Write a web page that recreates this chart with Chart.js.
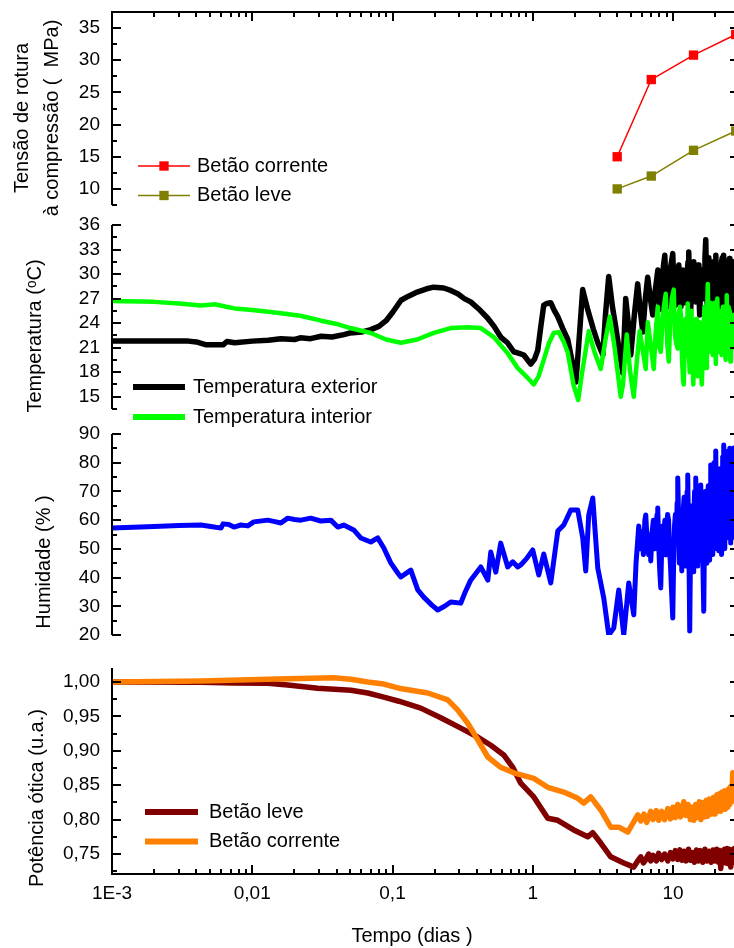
<!DOCTYPE html>
<html>
<head>
<meta charset="utf-8">
<script src="https://cdn.jsdelivr.net/npm/chart.js@4.4.1/dist/chart.umd.min.js"></script>
<style>
  html, body { margin: 0; padding: 0; background: #fff; overflow: hidden; }
  #wrap { position: relative; width: 734px; height: 948px; overflow: hidden; }
  canvas { position: absolute; left: 0; top: 0; }
</style>
</head>
<body>
<div id="wrap">
  <canvas id="strength" width="741" height="948"></canvas>
  <canvas id="temperature" width="741" height="948"></canvas>
  <canvas id="humidity" width="741" height="948"></canvas>
  <canvas id="optical" width="741" height="948"></canvas>
</div>
<script>
// shared time axis (dias, log)
const xMin = 0.001;
const xMax = 29.55;
const xTickValues = [0.001, 0.01, 0.1, 1, 10];
const xTickLabels = ['1E-3', '0,01', '0,1', '1', '10'];

// tensão de rotura à compressão
const strengthDays = [4, 7, 14, 28];
const strengthCorrente = [15, 27, 30.8, 34];
const strengthLeve = [10, 12, 16, 19];

// temperatura exterior [dias, ºC]
const extTemp = [
  [0.001, 21.8], [0.002, 21.8], [0.0035, 21.8], [0.004, 21.7], [0.0047, 21.35], [0.0062, 21.35], [0.0066, 21.75], [0.0075, 21.6], [0.01, 21.8], [0.013, 21.9],
  [0.016, 22.1], [0.02, 22.0], [0.022, 22.2], [0.026, 22.1], [0.031, 22.4], [0.037, 22.3], [0.045, 22.6], [0.05, 22.8], [0.06, 22.9], [0.07, 23.2],
  [0.08, 23.6], [0.09, 24.3], [0.1, 25.3], [0.115, 26.8], [0.13, 27.3], [0.15, 27.8], [0.175, 28.2], [0.197, 28.4], [0.232, 28.3], [0.26, 28.0],
  [0.292, 27.6], [0.325, 27.0], [0.361, 26.6], [0.42, 25.6], [0.478, 24.6], [0.53, 23.6], [0.591, 22.3], [0.66, 21.6], [0.732, 20.5], [0.8, 20.3],
  [0.863, 20.1], [0.968, 19.0], [1.03, 19.6], [1.086, 20.7], [1.14, 23.5], [1.198, 26.2], [1.26, 26.4], [1.344, 26.5], [1.42, 25.6], [1.508, 24.8],
  [1.64, 23.3], [1.777, 22.0], [1.9, 19.5], [2.03, 16.8], [2.12, 21.0], [2.27, 28.1], [2.47, 25.6], [2.7, 23.3], [2.91, 21.6], [3.16, 20.1],
  [3.3, 25.0], [3.48, 29.7], [3.7, 26.0], [3.9, 23.6], [4.15, 20.5], [4.38, 17.9], [4.6, 27.0], [4.8, 24.0], [5.0, 20.1], [5.3, 25.0],
  [5.6, 28.8], [5.85, 25.5], [6.09, 22.9], [6.35, 27.0], [6.6, 29.6], [6.9, 27.0], [7.17, 25.0], [7.4, 27.5], [7.6, 29.0], [7.8, 30.5],
  [8.0, 26.5], [8.18, 25.7], [8.35, 29.0], [8.55, 31.0], [8.74, 32.3], [8.95, 28.0], [9.15, 26.0], [9.33, 27.0], [9.55, 30.5], [9.75, 31.5],
  [9.96, 32.5], [10.15, 28.5], [10.3, 26.5], [10.46, 26.2], [10.65, 29.5], [10.85, 30.5], [11.0, 31.1], [11.2, 27.5], [11.4, 26.0], [11.6, 28.5],
  [11.8, 30.5], [12.0, 29.0], [12.2, 26.5], [12.4, 26.6], [12.6, 30.0], [12.8, 31.5], [12.95, 32.7], [13.15, 28.0], [13.35, 25.5], [13.55, 27.5],
  [13.75, 30.5], [13.9, 31.0], [14.06, 31.5], [14.3, 27.0], [14.5, 26.6], [14.7, 29.0], [14.9, 30.5], [15.1, 31.1], [15.3, 27.5], [15.5, 25.0],
  [15.7, 28.0], [15.9, 30.0], [16.1, 30.5], [16.3, 27.5], [16.5, 27.0], [16.7, 30.0], [16.9, 32.0], [17.12, 34.2], [17.35, 29.0], [17.55, 26.0],
  [17.8, 29.5], [18.0, 32.0], [18.2, 30.0], [18.4, 27.4], [18.6, 28.5], [18.8, 31.5], [19.0, 31.0], [19.2, 27.0], [19.45, 25.5], [19.7, 29.0],
  [19.95, 31.5], [20.2, 32.3], [20.45, 28.0], [20.7, 26.6], [20.95, 30.0], [21.2, 31.0], [21.45, 27.5], [21.7, 24.5], [21.95, 28.5], [22.2, 31.5],
  [22.45, 32.0], [22.7, 29.0], [22.95, 32.3], [23.2, 27.0], [23.45, 25.7], [23.7, 29.0], [23.95, 30.5], [24.2, 28.0], [24.45, 25.0], [24.7, 28.5],
  [24.95, 31.0], [25.2, 31.9], [25.45, 28.0], [25.7, 26.0], [25.95, 29.0], [26.2, 30.5], [26.45, 27.0], [26.7, 25.5], [26.95, 29.5], [27.2, 31.5],
  [27.45, 29.0], [27.6, 28.2]
];

// temperatura interior [dias, ºC]
const intTemp = [
  [0.001, 26.7], [0.002, 26.6], [0.003, 26.4], [0.0043, 26.15], [0.0055, 26.3], [0.0065, 26.0], [0.0075, 25.8], [0.01, 25.6], [0.013, 25.4], [0.016, 25.2],
  [0.022, 24.9], [0.031, 24.3], [0.04, 23.9], [0.05, 23.4], [0.07, 22.8], [0.09, 22.0], [0.1146, 21.6], [0.15, 22.0], [0.197, 22.8], [0.26, 23.4],
  [0.344, 23.5], [0.426, 23.4], [0.527, 22.3], [0.663, 20.3], [0.782, 18.5], [0.921, 17.3], [1.017, 16.5], [1.1, 17.5], [1.198, 19.5], [1.3, 21.5],
  [1.411, 22.8], [1.532, 22.9], [1.663, 21.7], [1.777, 20.4], [1.95, 16.5], [2.11, 14.6], [2.25, 18.0], [2.507, 23.0], [2.75, 20.5], [3.054, 18.4],
  [3.3, 22.0], [3.54, 24.8], [3.8, 21.5], [4.24, 15.0], [4.4, 16.5], [4.68, 22.6], [4.95, 18.0], [5.25, 15.0], [5.5, 19.0], [5.79, 23.0],
  [6.39, 18.4], [6.61, 24.1], [7.29, 18.4], [7.5, 22.5], [7.785, 26.0], [8.0, 21.0], [8.18, 20.5], [8.4, 24.0], [8.6, 26.0], [8.88, 27.6],
  [9.1, 21.5], [9.33, 19.3], [9.55, 24.0], [9.8, 27.0], [10.12, 28.1], [10.35, 22.5], [10.55, 21.5], [10.81, 20.9], [11.0, 25.0], [11.2, 26.0],
  [11.4, 25.0], [11.6, 19.5], [11.8, 17.0], [11.93, 16.5], [12.1, 21.0], [12.3, 24.5], [12.5, 20.0], [12.74, 26.4], [12.95, 21.0], [13.15, 18.0],
  [13.35, 23.0], [13.55, 25.5], [13.75, 20.5], [13.95, 16.5], [14.15, 19.5], [14.35, 23.0], [14.6, 24.5], [14.8, 19.5], [15.02, 17.5], [15.25, 22.0],
  [15.45, 24.1], [15.65, 21.0], [15.85, 18.0], [16.05, 16.5], [16.3, 20.0], [16.55, 24.0], [16.8, 26.0], [17.0, 21.0], [17.2, 18.5], [17.45, 24.0],
  [17.69, 28.8], [17.95, 23.0], [18.2, 20.5], [18.45, 26.5], [18.7, 25.5], [18.95, 21.0], [19.2, 20.1], [19.45, 24.5], [19.7, 26.5], [19.95, 22.0],
  [20.2, 19.0], [20.45, 24.0], [20.7, 27.0], [20.95, 23.0], [21.2, 20.5], [21.45, 25.5], [21.7, 25.0], [21.95, 21.0], [22.2, 20.1], [22.45, 23.5],
  [22.7, 26.0], [22.95, 24.0], [23.2, 26.0], [23.45, 21.0], [23.7, 19.5], [23.95, 24.5], [24.16, 27.4], [24.4, 22.5], [24.65, 21.0], [24.9, 26.0],
  [25.15, 25.5], [25.4, 21.5], [25.65, 19.3], [25.9, 23.0], [26.15, 24.5], [26.4, 22.5], [26.65, 21.0], [26.9, 25.0], [27.15, 24.5], [27.4, 21.5],
  [27.56, 22.6]
];

// humidade [dias, %]
const humidity = [
  [0.001, 57.3], [0.002, 57.8], [0.003, 58.1], [0.0043, 58.3], [0.0055, 57.5], [0.006, 57.3], [0.0062, 58.7], [0.0068, 58.5], [0.0074, 57.6], [0.0083, 58.3],
  [0.0093, 58.0], [0.01025, 59.4], [0.0129, 60.0], [0.0145, 59.5], [0.016, 59.0], [0.0179, 60.7], [0.02, 60.2], [0.0222, 60.0], [0.0261, 60.7], [0.0308, 59.7],
  [0.0363, 60.0], [0.0407, 57.6], [0.0449, 58.3], [0.0529, 56.6], [0.0594, 53.8], [0.07, 52.4], [0.0785, 53.8], [0.0867, 50.3], [0.0972, 45.1], [0.109, 41.6],
  [0.1146, 40.2], [0.135, 42.6], [0.1514, 35.7], [0.167, 33.2], [0.19, 30.5], [0.21, 28.7], [0.235, 30.0], [0.26, 31.5], [0.307, 31.1], [0.33, 35.0],
  [0.361, 39.1], [0.426, 43.7], [0.478, 39.1], [0.502, 48.9], [0.545, 41.9], [0.591, 52.0], [0.663, 43.7], [0.72, 45.5], [0.782, 43.7], [0.821, 44.4],
  [0.9, 46.5], [1.0, 49.6], [1.104, 40.9], [1.198, 48.2], [1.344, 38.1], [1.508, 56.2], [1.663, 58.3], [1.866, 63.5], [2.094, 63.5], [2.272, 53.8],
  [2.387, 42.3], [2.507, 61.8], [2.678, 67.7], [2.908, 43.3], [3.208, 32.9], [3.483, 20.0], [3.78, 22.4], [4.105, 35.7], [4.456, 20.0], [4.836, 38.1],
  [5.251, 27.0], [5.45, 45.0], [5.7, 58.0], [5.85, 50.0], [6.0, 56.0], [6.15, 48.0], [6.3, 60.0], [6.393, 61.8], [6.55, 52.0], [6.7, 48.0],
  [6.85, 55.0], [6.94, 45.8], [7.1, 56.0], [7.25, 60.0], [7.4, 50.0], [7.55, 58.0], [7.7, 62.0], [7.785, 64.2], [7.9, 52.0], [8.05, 42.0],
  [8.177, 36.4], [8.3, 50.0], [8.45, 58.0], [8.6, 55.0], [8.75, 60.0], [8.88, 47.9], [9.0, 55.0], [9.15, 62.0], [9.3, 60.0], [9.45, 50.0],
  [9.6, 44.0], [9.75, 36.0], [9.96, 25.9], [10.1, 45.0], [10.25, 58.0], [10.4, 62.0], [10.55, 52.0], [10.7, 66.0], [10.81, 74.7], [10.95, 62.0],
  [11.1, 45.0], [11.25, 58.0], [11.4, 62.0], [11.55, 42.3], [11.7, 55.0], [11.85, 64.0], [12.0, 68.0], [12.15, 56.0], [12.3, 44.0], [12.45, 60.0],
  [12.6, 70.0], [12.74, 75.7], [12.9, 55.0], [13.05, 40.0], [13.16, 21.4], [13.3, 45.0], [13.45, 60.0], [13.6, 65.0], [13.75, 54.0], [13.9, 42.0],
  [14.05, 60.0], [14.25, 70.0], [14.4, 62.0], [14.53, 74.7], [14.7, 60.0], [14.85, 44.0], [15.0, 52.0], [15.2, 64.0], [15.4, 70.0], [15.6, 58.0],
  [15.77, 72.2], [15.95, 55.0], [16.1, 46.0], [16.25, 52.0], [16.4, 40.0], [16.57, 28.3], [16.75, 52.0], [16.9, 66.0], [17.05, 70.0], [17.25, 58.0],
  [17.45, 45.0], [17.65, 68.0], [17.85, 72.0], [18.05, 60.0], [18.25, 46.0], [18.45, 70.0], [18.58, 79.2], [18.8, 62.0], [19.0, 48.0], [19.2, 68.0],
  [19.4, 76.0], [19.6, 80.0], [19.8, 62.0], [20.0, 70.0], [20.17, 84.1], [20.35, 66.0], [20.55, 50.0], [20.75, 72.0], [20.95, 76.0], [21.2, 49.3],
  [21.4, 66.0], [21.6, 74.0], [21.8, 78.0], [22.0, 52.0], [22.2, 48.0], [22.4, 72.0], [22.6, 82.0], [22.8, 64.0], [23.0, 86.2], [23.2, 68.0],
  [23.4, 50.0], [23.6, 76.0], [23.8, 84.0], [24.0, 70.0], [24.2, 55.0], [24.4, 57.0], [24.6, 74.0], [24.8, 80.0], [24.97, 53.8], [25.2, 72.0],
  [25.4, 85.0], [25.6, 68.0], [25.8, 52.0], [26.0, 76.0], [26.2, 82.0], [26.4, 64.0], [26.6, 78.0], [26.8, 54.0], [27.0, 80.0], [27.12, 85.1],
  [27.3, 70.0], [27.5, 56.0], [27.6, 62.0]
];

// potência ótica [dias, u.a.]
const opticLeve = [
  [0.001, 1.000], [0.0043, 0.9995], [0.00738, 0.9985], [0.0129, 0.998], [0.0179, 0.9956], [0.0293, 0.991], [0.0504, 0.988], [0.0666, 0.984], [0.0867, 0.978], [0.111, 0.972],
  [0.159, 0.962], [0.2208, 0.948], [0.307, 0.933], [0.405, 0.920], [0.502, 0.908], [0.621, 0.894], [0.72, 0.876], [0.821, 0.853], [1.017, 0.833], [1.279, 0.802],
  [1.508, 0.799], [1.96, 0.785], [2.466, 0.775], [2.678, 0.781], [3.054, 0.766], [3.598, 0.746], [4.456, 0.737], [5.251, 0.731], [5.6, 0.740], [5.89, 0.746],
  [6.15, 0.737], [6.4, 0.742], [6.7, 0.750], [6.94, 0.740], [7.2, 0.748], [7.6, 0.740], [7.9, 0.751], [8.3, 0.742], [8.7, 0.750], [9.18, 0.740],
  [9.6, 0.752], [10.0, 0.743], [10.4, 0.755], [10.81, 0.742], [11.2, 0.756], [11.6, 0.741], [12.0, 0.754], [12.4, 0.740], [12.9, 0.757], [13.38, 0.741],
  [13.8, 0.752], [14.2, 0.738], [14.7, 0.756], [15.2, 0.740], [15.7, 0.755], [16.3, 0.738], [16.9, 0.757], [17.5, 0.740], [18.1, 0.754], [18.7, 0.738],
  [19.3, 0.756], [19.9, 0.740], [20.5, 0.757], [21.1, 0.738], [21.6, 0.755], [21.9, 0.729], [22.3, 0.752], [22.8, 0.738], [23.3, 0.757], [23.8, 0.737],
  [24.3, 0.758], [24.8, 0.736], [25.3, 0.757], [25.81, 0.731], [26.3, 0.756], [26.8, 0.740], [27.3, 0.758], [27.8, 0.738], [28.3, 0.752]
];
const opticCorrente = [
  [0.001, 1.000], [0.0043, 1.0015], [0.0129, 1.004], [0.0381, 1.006], [0.0504, 1.004], [0.0666, 1.000], [0.0867, 0.997], [0.111, 0.991], [0.1784, 0.984], [0.2477, 0.974],
  [0.292, 0.959], [0.344, 0.940], [0.405, 0.916], [0.478, 0.891], [0.591, 0.876], [0.732, 0.868], [1.017, 0.860], [1.279, 0.847], [1.663, 0.840], [2.094, 0.831],
  [2.31, 0.824], [2.59, 0.833], [3.054, 0.814], [3.598, 0.789], [4.105, 0.789], [4.757, 0.782], [5.607, 0.807], [5.9, 0.798], [6.2, 0.808], [6.5, 0.796],
  [6.94, 0.812], [7.2, 0.800], [7.6, 0.813], [7.9, 0.799], [8.3, 0.812], [8.7, 0.800], [9.18, 0.816], [9.6, 0.801], [10.0, 0.818], [10.4, 0.803],
  [10.81, 0.822], [11.3, 0.804], [11.93, 0.826], [12.3, 0.806], [12.8, 0.822], [13.3, 0.800], [13.7, 0.818], [14.06, 0.799], [14.5, 0.822], [14.9, 0.803],
  [15.4, 0.826], [15.8, 0.800], [16.3, 0.825], [16.8, 0.804], [17.3, 0.828], [17.69, 0.805], [18.2, 0.830], [18.8, 0.808], [19.4, 0.832], [20.0, 0.808],
  [20.5, 0.836], [21.0, 0.812], [21.5, 0.838], [21.9, 0.812], [22.4, 0.840], [22.8, 0.816], [23.3, 0.842], [23.6, 0.815], [24.1, 0.838], [24.57, 0.818],
  [25.0, 0.845], [25.4, 0.822], [25.8, 0.848], [26.2, 0.826], [26.67, 0.868], [27.0, 0.835], [27.4, 0.855], [27.8, 0.832], [28.2, 0.850]
];

const H = 948;
const AREA_LEFT = 112;
const AREA_RIGHT = 739;
const FONT = '"Liberation Sans", Arial, sans-serif';

Chart.defaults.font.family = FONT;
Chart.defaults.font.size = 19;
Chart.defaults.color = '#000';

const zip = (xs, ys) => xs.map((x, i) => ({x: x, y: ys[i]}));
const pairs = arr => arr.map(p => ({x: p[0], y: p[1]}));
const onStep = (v, step) => Math.abs(v / step - Math.round(v / step)) < 1e-6;

function logX(display) {
  return {
    type: 'logarithmic',
    min: xMin,
    max: xMax,
    display: display,
    afterBuildTicks: s => {
      const t = [];
      for (let e = -3; e <= 1; e++) {
        for (let k = 1; k <= 9; k++) {
          const v = +(k * Math.pow(10, e)).toPrecision(6);
          if (v >= s.min && v <= s.max) t.push({value: v, major: k === 1});
        }
      }
      s.ticks = t;
    },
    // only the bottom panel keeps a real x axis box
    afterFit: s => {
      s.height = display ? H - 874 : 0;
      s.paddingLeft = s.paddingRight = 0;
    },
    grid: {display: false, drawTicks: false},
    border: {display: false},
    ticks: {
      autoSkip: false, maxRotation: 0, minRotation: 0, padding: 8,
      callback: v => {
        const i = xTickValues.findIndex(t => Math.abs(t - v) < t * 1e-6);
        return i < 0 ? '' : xTickLabels[i];
      }
    }
  };
}

function linY(min, max, step, labelStep, fmt) {
  return {
    min: min,
    max: max,
    afterFit: s => {
      s.width = AREA_LEFT;
      s.paddingTop = s.paddingBottom = 0;
    },
    grid: {display: false, drawTicks: false},
    border: {display: false},
    ticks: {
      stepSize: step, includeBounds: false, autoSkip: false, padding: 12,
      callback: v => onStep(v, labelStep) ? fmt(v) : ''
    }
  };
}

function lineSet(label, data, color, width, order) {
  return {
    label: label, data: data, order: order,
    borderColor: color, backgroundColor: color, borderWidth: width,
    pointRadius: 0, tension: 0, fill: false,
    borderJoinStyle: 'round', borderCapStyle: 'round'
  };
}

// axis lines + inward ticks (Origin style)
const framePlugin = {
  id: 'frame',
  afterDatasetsDraw(chart, args, o) {
    const {ctx, chartArea: a} = chart;
    const x = chart.scales.x, y = chart.scales.y;
    ctx.save();
    ctx.strokeStyle = '#000';
    ctx.lineWidth = 2;
    ctx.beginPath();
    ctx.moveTo(a.left, a.top); ctx.lineTo(a.left, a.bottom);
    ctx.moveTo(a.right, a.top); ctx.lineTo(a.right, a.bottom);
    y.ticks.forEach(t => {
      if (!onStep(t.value, o.minorStep)) return;
      const len = onStep(t.value, o.majorStep) ? 9 : 5;
      const py = Math.round(y.getPixelForValue(t.value));
      ctx.moveTo(a.left, py); ctx.lineTo(a.left + len, py);
      ctx.moveTo(a.right, py); ctx.lineTo(a.right - len, py);
    });
    const edges = [];
    if (o.top) edges.push([a.top, 1]);
    if (o.bottom) edges.push([a.bottom, -1]);
    edges.forEach(([ey, dir]) => {
      ctx.moveTo(a.left - 1, ey); ctx.lineTo(a.right, ey);
      x.ticks.forEach(t => {
        const px = Math.round(x.getPixelForValue(t.value));
        ctx.moveTo(px, ey); ctx.lineTo(px, ey + dir * (t.major ? 9 : 5));
      });
    });
    ctx.stroke();
    ctx.restore();
  }
};

// legend drawn inside the plot, from the dataset styles
const legendPlugin = {
  id: 'panelLegend',
  afterDraw(chart, args, o) {
    if (!o.rows) return;
    const ctx = chart.ctx;
    ctx.save();
    ctx.font = '20px ' + FONT;
    ctx.textBaseline = 'middle';
    o.rows.forEach((idx, r) => {
      const ds = chart.data.datasets[idx];
      const yy = o.y + r * o.dy;
      ctx.strokeStyle = ds.borderColor;
      ctx.lineWidth = o.lineWidth || ds.borderWidth;
      ctx.beginPath(); ctx.moveTo(o.x1, yy); ctx.lineTo(o.x2, yy); ctx.stroke();
      if (ds.pointRadius) {
        const s = ds.pointRadius * Math.SQRT1_2;
        ctx.fillStyle = ds.pointBackgroundColor;
        ctx.fillRect((o.x1 + o.x2) / 2 - s, yy - s, 2 * s, 2 * s);
      }
      ctx.fillStyle = '#000';
      ctx.fillText(ds.label, o.textX, yy);
    });
    ctx.restore();
  }
};

const titlePlugin = {
  id: 'axisTitles',
  afterDraw(chart, args, o) {
    const ctx = chart.ctx;
    ctx.save();
    ctx.fillStyle = '#000';
    ctx.textAlign = 'center';
    ctx.textBaseline = 'middle';
    ctx.font = o.size + 'px ' + FONT;
    (o.y || []).forEach(t => {
      ctx.save();
      ctx.translate(t.x, t.y);
      ctx.rotate(-Math.PI / 2);
      ctx.fillText(t.text, 0, 0);
      ctx.restore();
    });
    (o.x || []).forEach(t => ctx.fillText(t.text, t.x, t.y));
    ctx.restore();
  }
};

function panel(id, datasets, top, bottom, xDisplay, yScale, plug) {
  return new Chart(document.getElementById(id), {
    type: 'line',
    data: {datasets: datasets},
    options: {
      responsive: false, animation: false, events: [], devicePixelRatio: 1,
      layout: {autoPadding: false, padding: {left: 0, right: 741 - AREA_RIGHT, top: top, bottom: xDisplay ? 0 : H - bottom}},
      scales: {x: logX(xDisplay), y: yScale},
      plugins: Object.assign({legend: {display: false}, tooltip: {enabled: false}}, plug)
    },
    plugins: [framePlugin, legendPlugin, titlePlugin]
  });
}

const square = c => ({pointStyle: 'rect', pointRadius: 6.6, pointBackgroundColor: c, pointBorderColor: c, pointBorderWidth: 0});

panel('strength', [
  Object.assign(lineSet('Betão corrente', zip(strengthDays, strengthCorrente), '#ff0000', 1.5, 1), square('#ff0000')),
  Object.assign(lineSet('Betão leve', zip(strengthDays, strengthLeve), '#808000', 1.5, 2), square('#808000'))
], 12, 205, false, linY(7.5, 37.5, 2.5, 5, v => String(v)), {
  frame: {top: true, minorStep: 2.5, majorStep: 5},
  panelLegend: {rows: [0, 1], x1: 138, x2: 190, textX: 197, y: 166, dy: 29.5},
  axisTitles: {size: 20, y: [{text: 'Tensão de rotura', x: 22, y: 118}, {text: 'à compressão (  MPa)', x: 52, y: 118}]}
});

panel('temperature', [
  lineSet('Temperatura exterior', pairs(extTemp), '#000000', 5.5, 2),
  lineSet('Temperatura interior', pairs(intTemp), '#00ff00', 4.5, 1)
], 225, 409, false, linY(13.5, 36, 1.5, 3, v => String(v)), {
  frame: {minorStep: 1.5, majorStep: 3},
  panelLegend: {rows: [0, 1], x1: 133, x2: 185, textX: 193, y: 387, dy: 30, lineWidth: 6},
  axisTitles: {size: 20, y: [{text: 'Temperatura (ᵒC)', x: 35, y: 336}]}
});

panel('humidity', [
  lineSet('Humidade', pairs(humidity), '#0000ff', 5, 1)
], 434, 635, false, linY(20, 90, 5, 10, v => String(v)), {
  frame: {minorStep: 5, majorStep: 10},
  axisTitles: {size: 20, y: [{text: 'Humidade (% )', x: 44, y: 562}]}
});

panel('optical', [
  lineSet('Betão leve', pairs(opticLeve), '#800000', 5.5, 2),
  lineSet('Betão corrente', pairs(opticCorrente), '#ff8000', 5.5, 1)
], 668, 874, true, linY(0.721, 1.0203, 0.025, 0.05, v => v.toFixed(2).replace('.', ',')), {
  frame: {bottom: true, minorStep: 0.025, majorStep: 0.05},
  panelLegend: {rows: [0, 1], x1: 145, x2: 198, textX: 209, y: 812, dy: 29.5, lineWidth: 6},
  axisTitles: {size: 20, y: [{text: 'Potência ótica (u.a.)', x: 37, y: 798}], x: [{text: 'Tempo (dias )', x: 412, y: 936}]}
});
</script>
</body>
</html>
